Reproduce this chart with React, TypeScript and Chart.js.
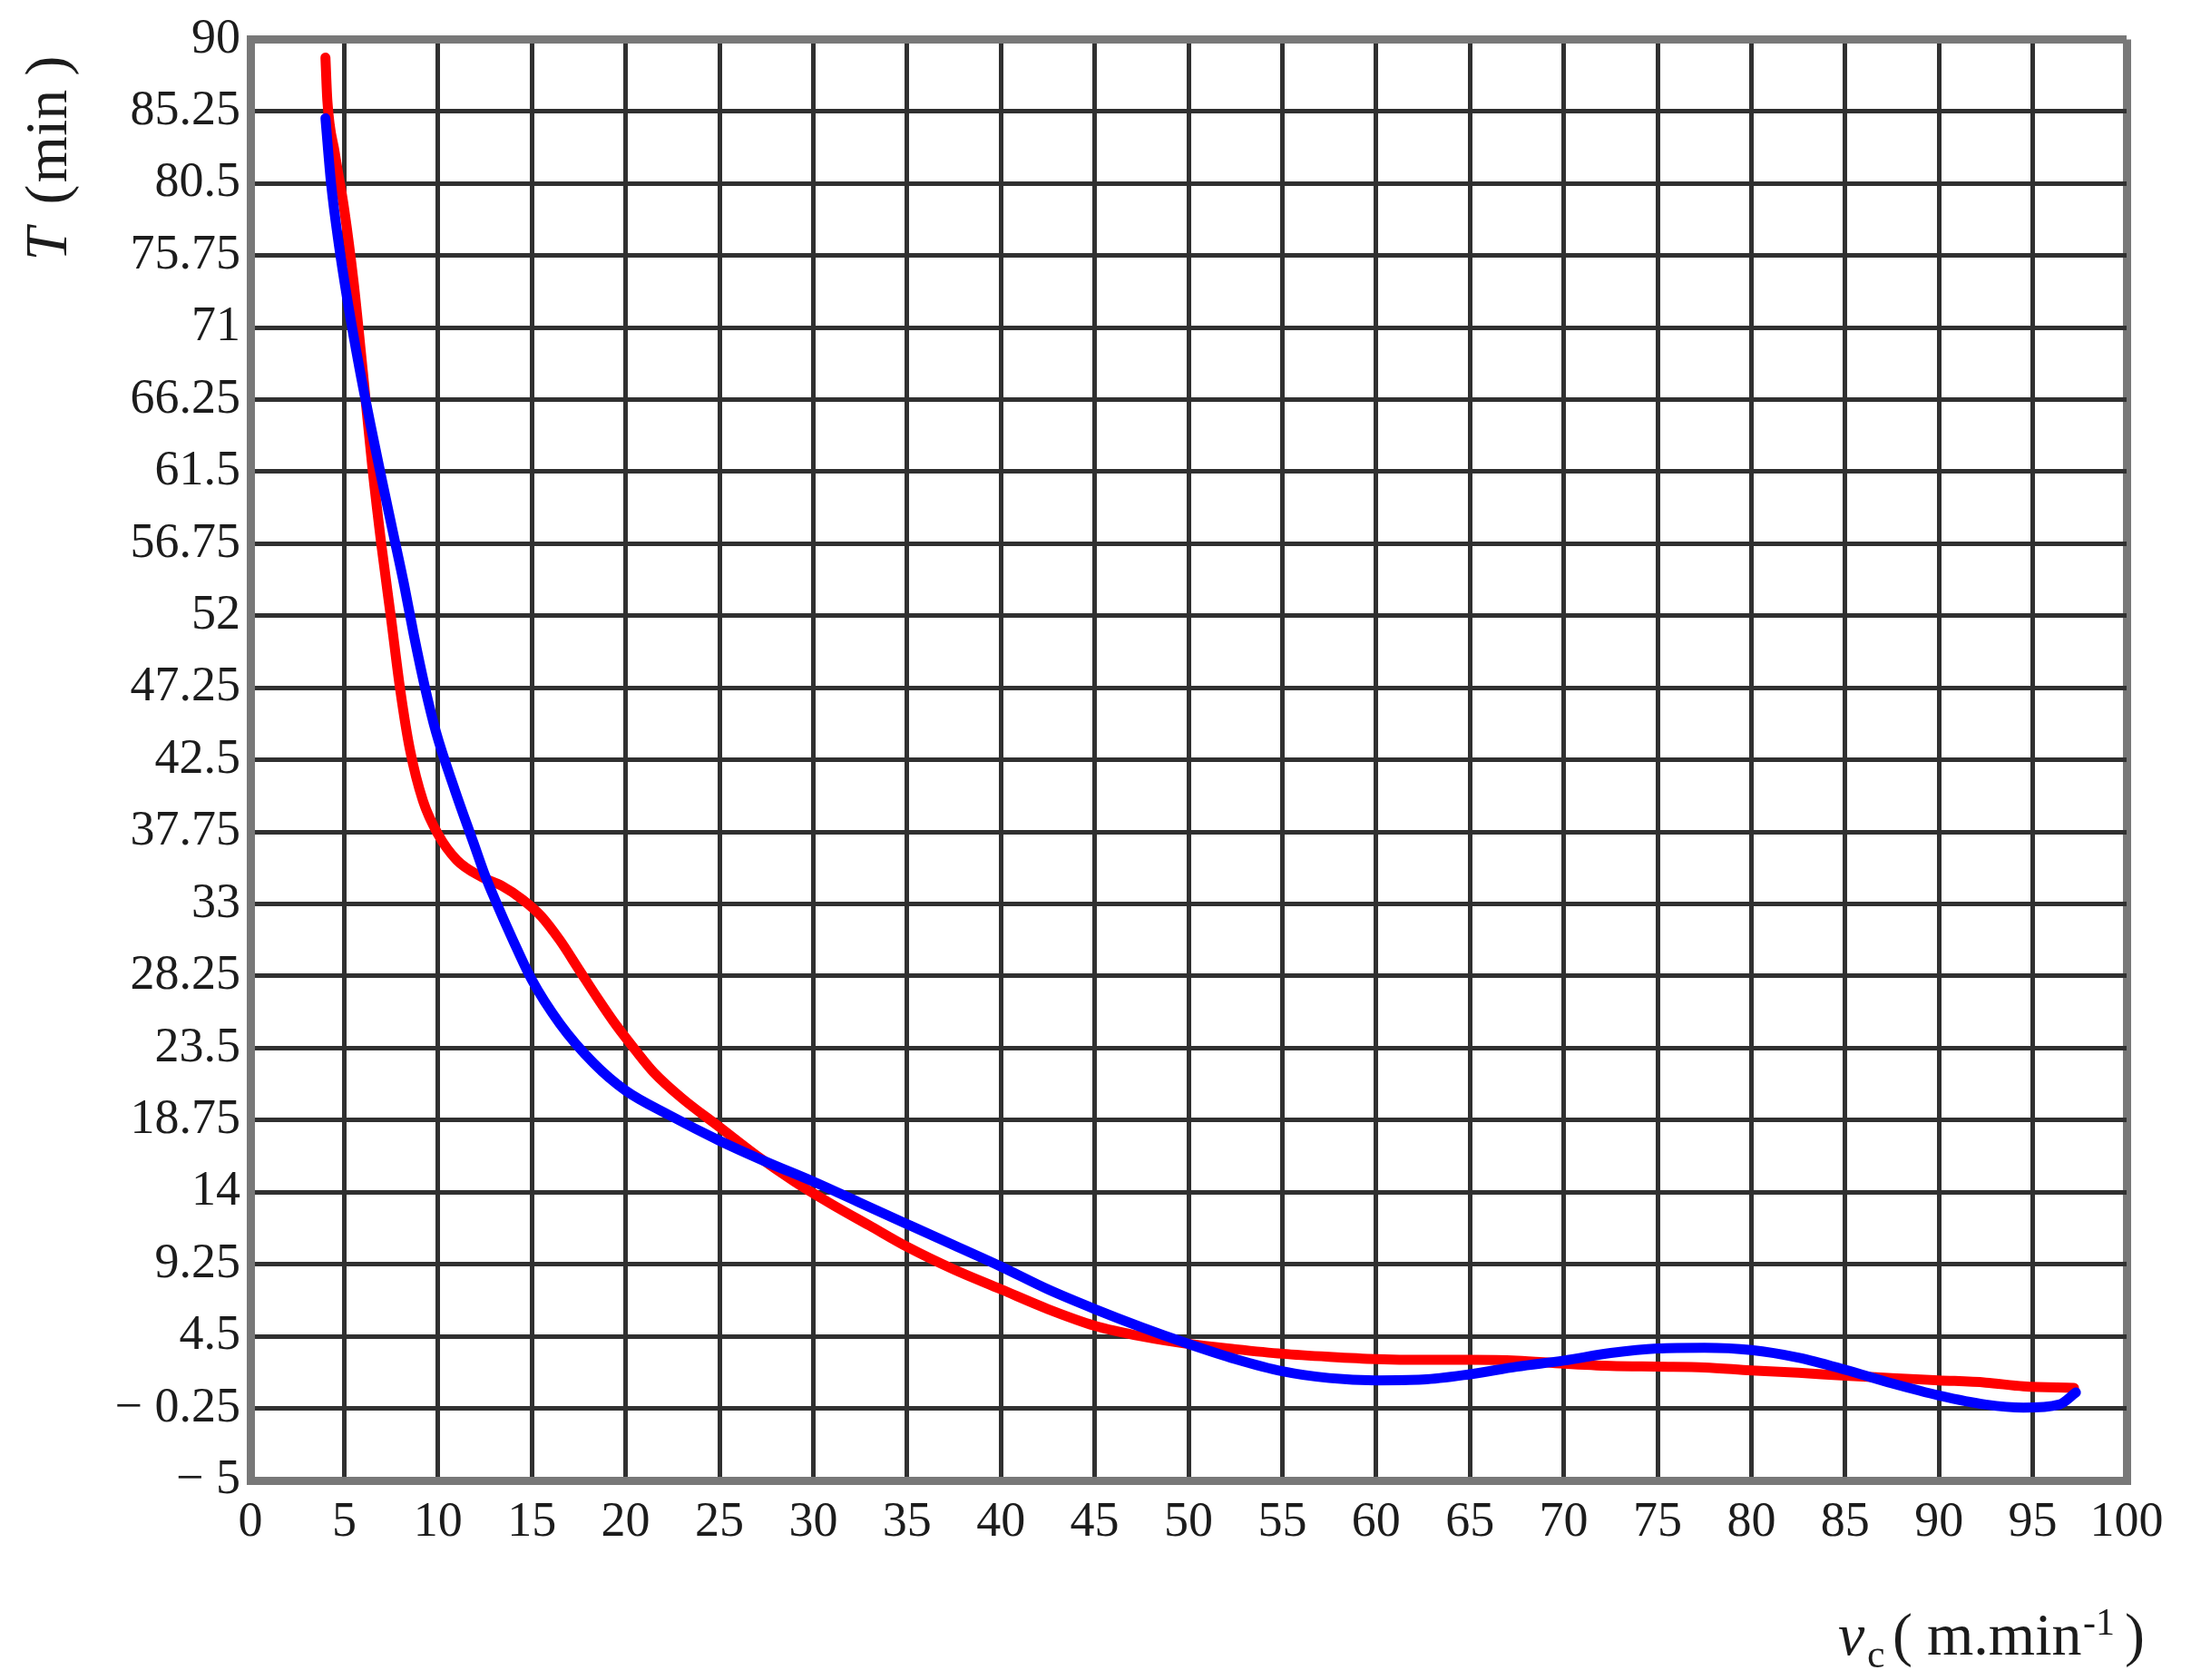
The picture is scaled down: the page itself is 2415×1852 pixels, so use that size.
import React, { useEffect, useRef } from 'react';
import { Chart, registerables } from 'chart.js';

Chart.register(...registerables);

// ---- data ----
const xTicks = [0, 5, 10, 15, 20, 25, 30, 35, 40, 45, 50, 55, 60, 65, 70, 75, 80, 85, 90, 95, 100];
const yTicks = [-5, -0.25, 4.5, 9.25, 14, 18.75, 23.5, 28.25, 33, 37.75, 42.5, 47.25, 52, 56.75, 61.5, 66.25, 71, 75.75, 80.5, 85.25, 90];
const yTickLabels = ['\u2212 5', '\u2212 0.25', '4.5', '9.25', '14', '18.75', '23.5', '28.25', '33', '37.75', '42.5', '47.25', '52', '56.75', '61.5', '66.25', '71', '75.75', '80.5', '85.25', '90'];

const redX = [4.0, 4.1, 4.5, 5.0, 5.5, 6.0, 6.5, 7.0, 7.5, 8.0, 8.5, 9.2, 10.0, 11.0, 12.3, 13.4, 14.5, 15.5, 16.5, 17.5, 18.5, 19.5, 20.5, 21.5, 23.0, 25.0, 27.0, 29.0, 31.0, 33.0, 35.0, 37.5, 40.0, 42.5, 45.0, 47.5, 50.0, 52.5, 55.0, 57.5, 60.0, 62.5, 65.0, 67.5, 70.0, 72.5, 75.0, 77.5, 80.0, 82.5, 85.0, 87.5, 90.0, 92.5, 94.5, 97.2];
const redY = [88.8, 86.0, 82.5, 78.8, 74.0, 68.0, 61.8, 56.5, 51.8, 47.0, 43.2, 39.8, 37.6, 35.9, 34.8, 34.2, 33.3, 32.2, 30.6, 28.7, 26.8, 25.0, 23.4, 21.9, 20.2, 18.3, 16.4, 14.7, 13.2, 11.8, 10.4, 8.9, 7.6, 6.3, 5.2, 4.5, 4.0, 3.65, 3.35, 3.15, 3.0, 2.95, 2.95, 2.9, 2.7, 2.55, 2.5, 2.45, 2.25, 2.1, 1.9, 1.75, 1.6, 1.45, 1.2, 1.1];

const blueX = [4.0, 4.3, 4.7, 5.2, 5.8, 6.4, 7.0, 7.6, 8.2, 8.7, 9.3, 9.9, 10.9, 11.9, 12.5, 13.0, 14.0, 15.0, 16.5, 18.3, 20.0, 22.3, 25.0, 27.5, 30.0, 32.5, 35.0, 37.5, 40.0, 42.5, 45.0, 47.5, 50.0, 52.5, 55.0, 57.5, 60.0, 62.5, 65.0, 67.5, 70.0, 72.5, 75.0, 77.5, 80.0, 82.5, 85.0, 87.5, 90.0, 92.5, 94.5, 96.4, 97.3];
const blueY = [84.8, 80.5, 76.6, 72.6, 68.4, 64.6, 61.0, 57.5, 54.0, 50.8, 47.3, 44.3, 40.5, 37.0, 34.9, 33.4, 30.6, 28.0, 25.1, 22.5, 20.7, 19.1, 17.4, 16.0, 14.7, 13.3, 11.9, 10.5, 9.1, 7.6, 6.3, 5.1, 4.0, 3.0, 2.2, 1.75, 1.6, 1.65, 2.0, 2.5, 2.9, 3.4, 3.7, 3.75, 3.6, 3.1, 2.3, 1.4, 0.6, 0.0, -0.2, 0.0, 0.8];

const yTitleMain = 'T';
const yTitleUnit = 'min';
const xTitleVar = 'v';
const xTitleSub = 'c';
const xTitleUnit = 'm.min';
const xTitleExp = '-1';

const SERIF = '"Liberation Serif", "Times New Roman", serif';
const TEXT = '#1c1c1c';
const GRID = '#303030';
const EDGE = '#787878';

const titlePlugin = {
  id: 'mathTitles',
  afterDraw(chart: any) {
    const { ctx, chartArea } = chart;
    ctx.save();
    ctx.fillStyle = TEXT;
    ctx.textAlign = 'left';
    ctx.textBaseline = 'alphabetic';

    // y title, rotated
    ctx.save();
    ctx.translate(chartArea.left - 203, chartArea.top + 244);
    ctx.rotate(-Math.PI / 2);
    ctx.font = `italic 66px ${SERIF}`;
    ctx.fillText(yTitleMain, 0, 0);
    ctx.font = `66px ${SERIF}`;
    ctx.fillText('(', 62, 0);
    ctx.fillText(yTitleUnit, 86, 0);
    ctx.fillText(')', 204, 0);
    ctx.restore();

    // x title
    const base = chartArea.bottom + 192;
    const x0 = chartArea.right - 318;
    ctx.font = `italic 66px ${SERIF}`;
    ctx.fillText(xTitleVar, x0, base);
    ctx.font = `44px ${SERIF}`;
    ctx.fillText(xTitleSub, x0 + 32, base + 14);
    ctx.font = `66px ${SERIF}`;
    ctx.fillText('(', x0 + 60, base);
    ctx.fillText(xTitleUnit, x0 + 98, base);
    ctx.font = `42px ${SERIF}`;
    ctx.fillText(xTitleExp, x0 + 270, base - 22);
    ctx.font = `66px ${SERIF}`;
    ctx.fillText(')', x0 + 316, base);
    ctx.restore();
  },
};

export default function App() {
  const canvasRef = useRef<HTMLCanvasElement | null>(null);

  useEffect(() => {
    document.body.style.margin = '0';
    const canvas = canvasRef.current;
    if (!canvas) return;

    const red = redX.map((x, i) => ({ x, y: redY[i] }));
    const blue = blueX.map((x, i) => ({ x, y: blueY[i] }));

    const edgeTick = (vals: number[]) => (c: any) => {
      const v = c.tick ? c.tick.value : null;
      return v === vals[0] || v === vals[vals.length - 1];
    };
    const isXEdge = edgeTick(xTicks);
    const isYEdge = edgeTick(yTicks);

    const chart = new Chart(canvas, {
      type: 'scatter',
      data: {
        datasets: [
          {
            label: 'blue',
            data: blue,
            showLine: true,
            borderColor: '#0000ff',
            backgroundColor: '#0000ff',
            borderWidth: 11,
            pointRadius: 0,
            cubicInterpolationMode: 'monotone',
            borderCapStyle: 'round',
            borderJoinStyle: 'round',
            order: 0,
          },
          {
            label: 'red',
            data: red,
            showLine: true,
            borderColor: '#ff0000',
            backgroundColor: '#ff0000',
            borderWidth: 11,
            pointRadius: 0,
            cubicInterpolationMode: 'monotone',
            borderCapStyle: 'round',
            borderJoinStyle: 'round',
            order: 1,
          },
        ],
      },
      options: {
        responsive: false,
        animation: false,
        devicePixelRatio: 1,
        layout: { padding: { top: 33, right: 71, left: 0, bottom: 0 } },
        plugins: {
          legend: { display: false },
          tooltip: { enabled: false },
        },
        scales: {
          x: {
            type: 'linear',
            min: 0,
            max: 100,
            afterFit: (s: any) => {
              s.height = 220;
            },
            afterBuildTicks: (s: any) => {
              s.ticks = xTicks.map((v) => ({ value: v }));
            },
            ticks: {
              autoSkip: false,
              maxRotation: 0,
              padding: 14,
              color: TEXT,
              font: { family: SERIF, size: 54 },
              callback: (v: any) => String(v),
            },
            grid: {
              drawTicks: false,
              color: (c: any) => (isXEdge(c) ? EDGE : GRID),
              lineWidth: (c: any) => (isXEdge(c) ? 9 : 5),
            },
            border: { display: true, color: EDGE, width: 9 },
          },
          y: {
            type: 'linear',
            min: -5,
            max: 90,
            afterFit: (s: any) => {
              s.width = 276;
            },
            afterBuildTicks: (s: any) => {
              s.ticks = yTicks.map((v) => ({ value: v }));
            },
            ticks: {
              autoSkip: false,
              padding: 11,
              color: TEXT,
              font: { family: SERIF, size: 54 },
              callback: (v: any) => {
                const i = yTicks.indexOf(Number(v));
                return i >= 0 ? yTickLabels[i] : '';
              },
            },
            grid: {
              drawTicks: false,
              color: (c: any) => (isYEdge(c) ? EDGE : GRID),
              lineWidth: (c: any) => (isYEdge(c) ? 9 : 5),
            },
            border: { display: true, color: EDGE, width: 9 },
          },
        },
      },
      plugins: [titlePlugin],
    } as any);

    return () => {
      chart.destroy();
    };
  }, []);

  return (
    <div style={{ width: 2415, height: 1852, background: '#fff' }}>
      <canvas ref={canvasRef} width={2415} height={1852} style={{ display: 'block' }} />
    </div>
  );
}
